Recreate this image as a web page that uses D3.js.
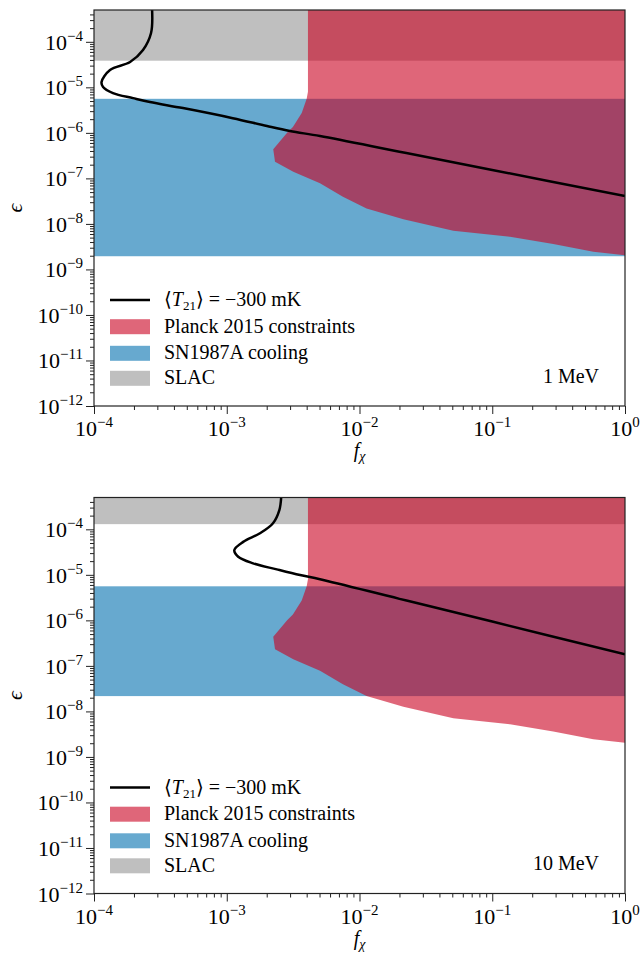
<!DOCTYPE html>
<html>
<head>
<meta charset="utf-8">
<script src="https://cdn.jsdelivr.net/npm/d3@7"></script>
<style>
  body { margin: 0; background: #fff; }
</style>
</head>
<body>
<div id="container"></div>
<script>
const width = 641, height = 955,
  margin = { left: 94, right: 16 },
  panelTops = [10, 497.5],
  panelHeight = 396,
  plotW = width - margin.left - margin.right;

/* DATA */
const xTicks = [1e-4, 1e-3, 1e-2, 1e-1, 1];
const xExp = ["−4", "−3", "−2", "−1", "0"];
const yTicks = [1e-12, 1e-11, 1e-10, 1e-9, 1e-8, 1e-7, 1e-6, 1e-5, 1e-4];
const yExp = ["−12", "−11", "−10", "−9", "−8", "−7", "−6", "−5", "−4"];
const massLabels = ["1 MeV", "10 MeV"];

// SLAC excluded above this epsilon, SN1987A band between upper/lower
const slacLower = [3.85e-5, 1.3e-4];
const snUpper = [5.6e-6, 5.6e-6];
const snLower = [1.95e-9, 2.17e-8];

// Planck 2015 boundary (same in both panels)
const planckF = [4.09e-3, 4.09e-3, 4.0e-3, 3.67e-3, 3.15e-3, 2.85e-3, 2.24e-3, 2.31e-3, 3.17e-3, 5.04e-3, 7.5e-3, 1.13e-2, 2.14e-2, 5.09e-2, 0.136, 0.288, 0.577, 1];
const planckEps = [5e-4, 8e-6, 5.6e-6, 2.72e-6, 1.34e-6, 1.0e-6, 4.34e-7, 2.32e-7, 1.4e-7, 7.8e-8, 3.94e-8, 2.19e-8, 1.26e-8, 7.05e-9, 5.2e-9, 3.6e-9, 2.44e-9, 2.06e-9];

// <T21> = -300 mK contours
const t21F_1MeV = [2.74e-4, 2.69e-4, 2.34e-4, 1.87e-4, 1.32e-4, 1.14e-4, 1.17e-4, 1.39e-4, 1.97e-4, 2.64e-4, 4.68e-4, 1.11e-3, 2.01e-3, 2.99e-3, 5.04e-3, 2e-2, 1e-1, 1];
const t21Eps_1MeV = [5e-4, 1.56e-4, 6.6e-5, 3.6e-5, 2.4e-5, 1.31e-5, 1.02e-5, 7.5e-6, 5.8e-6, 4.75e-6, 3.5e-6, 2.1e-6, 1.41e-6, 1.1e-6, 8.5e-7, 3.86e-7, 1.53e-7, 4.1e-8];
const t21F_10MeV = [2.57e-3, 2.49e-3, 2.23e-3, 1.78e-3, 1.33e-3, 1.14e-3, 1.22e-3, 1.58e-3, 2.38e-3, 3.57e-3, 5.04e-3, 2e-2, 1e-1, 1];
const t21Eps_10MeV = [5e-4, 2.65e-4, 1.36e-4, 8.2e-5, 5.3e-5, 3.5e-5, 2.5e-5, 1.79e-5, 1.32e-5, 9.9e-6, 8.0e-6, 2.97e-6, 9.4e-7, 1.79e-7];
const t21F = [t21F_1MeV, t21F_10MeV];
const t21Eps = [t21Eps_1MeV, t21Eps_10MeV];

const legendLabels = ["Planck 2015 constraints", "SN1987A cooling", "SLAC"];
const legendColors = [["#ca0020", 0.6], ["#67a9cf", 1], ["gray", 0.5]];

const svg = d3.select("#container").append("svg")
  .attr("width", width).attr("height", height)
  .attr("font-family", "'Liberation Serif', 'DejaVu Serif', serif");

function minorTicks(lo, hi) {
  const out = [];
  for (let e = -13; e <= 0; e++) {
    for (let m = 2; m <= 9; m++) {
      const v = m * Math.pow(10, e);
      if (v > lo && v < hi) out.push(v);
    }
  }
  return out;
}

function drawPanel(i) {
  const g = svg.append("g").attr("transform", `translate(${margin.left},${panelTops[i]})`);

  const xScale = d3.scaleLog().domain([1e-4, 1]).range([0, plotW]);
  const yScale = d3.scaleLog().domain([1e-12, 5e-4]).range([panelHeight, 0]);
  const yTop = yScale.domain()[1];

  g.append("clipPath").attr("id", "clip" + i)
    .append("rect").attr("width", plotW).attr("height", panelHeight);
  const plot = g.append("g").attr("clip-path", `url(#clip${i})`);

  // SLAC
  plot.append("rect")
    .attr("x", 0).attr("width", plotW)
    .attr("y", yScale(yTop))
    .attr("height", yScale(slacLower[i]) - yScale(yTop))
    .attr("fill", "gray").attr("opacity", 0.5);

  // SN1987A
  plot.append("rect")
    .attr("x", 0).attr("width", plotW)
    .attr("y", yScale(snUpper[i]))
    .attr("height", yScale(snLower[i]) - yScale(snUpper[i]))
    .attr("fill", "#67a9cf");

  // Planck
  const planckPts = planckF.map((f, j) => [f, planckEps[j]]);
  planckPts.push([xScale.domain()[1], yTop]);
  plot.append("path")
    .attr("d", d3.line().x(d => xScale(d[0])).y(d => yScale(d[1]))(planckPts) + "Z")
    .attr("fill", "#ca0020").attr("opacity", 0.6);

  // T21 contour
  const linePts = t21F[i].map((f, j) => [f, t21Eps[i][j]]);
  plot.append("path")
    .attr("d", d3.line().x(d => xScale(d[0])).y(d => yScale(d[1]))
      .curve(d3.curveCatmullRom.alpha(0.5))(linePts))
    .attr("fill", "none").attr("stroke", "#000").attr("stroke-width", 2.5);

  // axes
  g.append("g").attr("transform", `translate(0,${panelHeight})`)
    .call(d3.axisBottom(xScale).tickValues(xTicks).tickSize(8).tickSizeOuter(0).tickFormat(""));
  g.append("g").attr("transform", `translate(0,${panelHeight})`)
    .call(d3.axisBottom(xScale).tickValues(minorTicks(1e-4, 1)).tickSize(4).tickSizeOuter(0).tickFormat(""));
  g.append("g")
    .call(d3.axisLeft(yScale).tickValues(yTicks).tickSize(8).tickSizeOuter(0).tickFormat(""));
  g.append("g")
    .call(d3.axisLeft(yScale).tickValues(minorTicks(1e-12, 5e-4)).tickSize(4).tickSizeOuter(0).tickFormat(""));
  g.selectAll(".domain").remove();
  g.selectAll(".tick line").attr("stroke", "#222");

  // tick labels
  xTicks.forEach((t, j) => {
    const tx = g.append("text").attr("x", xScale(t)).attr("y", panelHeight + 30)
      .attr("text-anchor", "middle").attr("font-size", 22);
    tx.append("tspan").text("10");
    tx.append("tspan").attr("dy", -9).attr("font-size", 15).text(xExp[j]);
  });
  yTicks.forEach((t, j) => {
    const ty = g.append("text").attr("x", -11).attr("y", yScale(t) + 8)
      .attr("text-anchor", "end").attr("font-size", 22);
    ty.append("tspan").text("10");
    ty.append("tspan").attr("dy", -9).attr("font-size", 15).text(yExp[j]);
  });

  // spines
  g.append("rect").attr("width", plotW).attr("height", panelHeight)
    .attr("fill", "none").attr("stroke", "#222").attr("stroke-width", 1.2);

  // axis labels
  const xl = g.append("text").attr("x", plotW / 2).attr("y", panelHeight + 51)
    .attr("text-anchor", "middle").attr("font-size", 20);
  xl.append("tspan").attr("font-style", "italic").text("f");
  xl.append("tspan").attr("dy", 4).attr("font-size", 14).attr("font-style", "italic").text("χ");

  g.append("text")
    .attr("transform", `translate(${-72},${panelHeight / 2}) rotate(-90)`)
    .attr("text-anchor", "middle").attr("font-size", 22).attr("font-style", "italic")
    .text("ϵ");

  // legend
  const rows = [290, 316.7, 343.3, 368.3];
  g.append("line").attr("x1", 16).attr("x2", 56).attr("y1", rows[0]).attr("y2", rows[0])
    .attr("stroke", "#000").attr("stroke-width", 2.5);
  const lt = g.append("text").attr("x", 70).attr("y", rows[0] + 6).attr("font-size", 20);
  lt.append("tspan").text("⟨");
  lt.append("tspan").attr("font-style", "italic").text("T");
  lt.append("tspan").attr("dy", 4).attr("font-size", 13).text("21");
  lt.append("tspan").attr("dy", -4).text("⟩ = −300 mK");

  legendLabels.forEach((lab, j) => {
    g.append("rect").attr("x", 16).attr("y", rows[j + 1] - 7.5).attr("width", 40).attr("height", 15)
      .attr("fill", legendColors[j][0]).attr("opacity", legendColors[j][1]);
    g.append("text").attr("x", 70).attr("y", rows[j + 1] + 6).attr("font-size", 20).text(lab);
  });

  g.append("text").attr("x", plotW - 26).attr("y", 372.7)
    .attr("text-anchor", "end").attr("font-size", 20).text(massLabels[i]);
}

drawPanel(0);
drawPanel(1);
</script>
</body>
</html>
